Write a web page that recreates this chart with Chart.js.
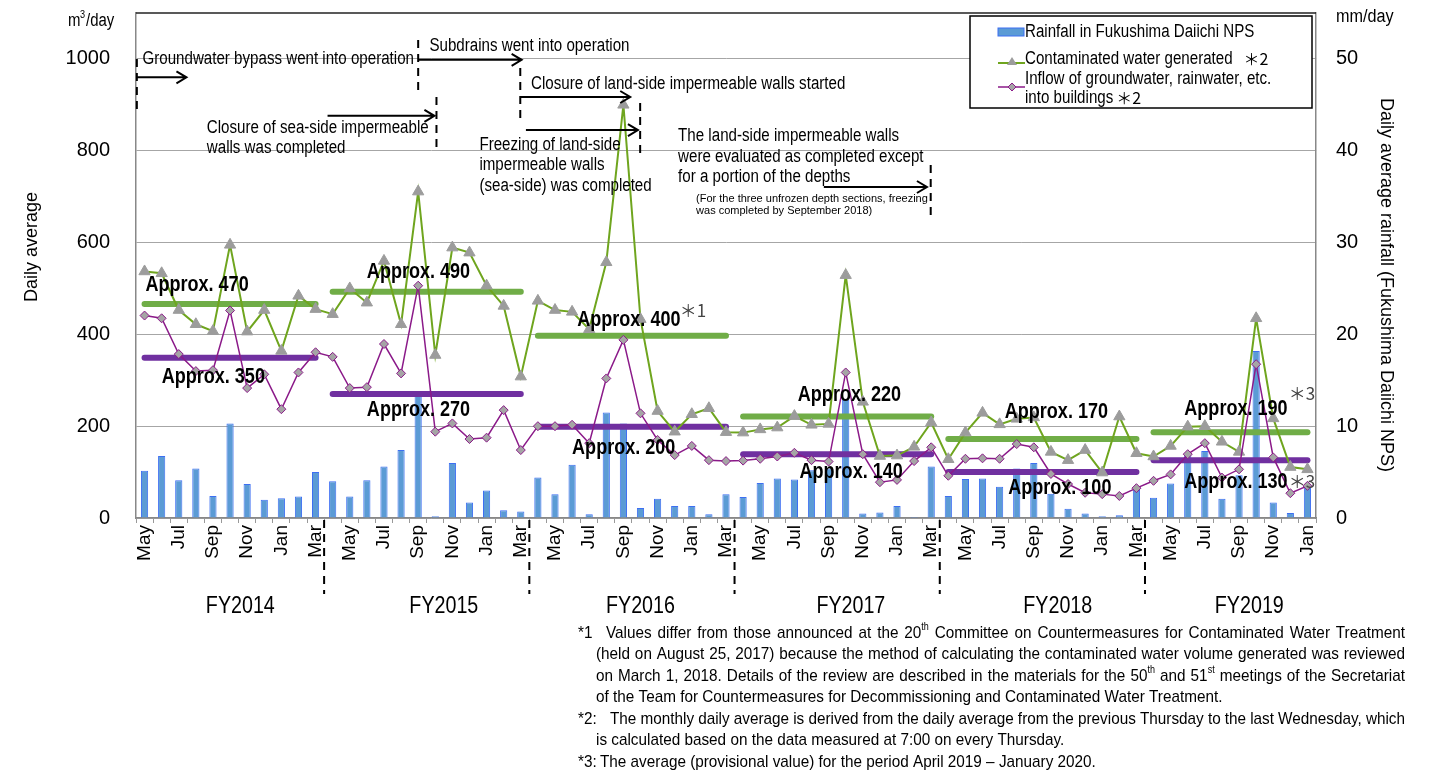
<!DOCTYPE html>
<html>
<head>
<meta charset="utf-8">
<script src="https://cdn.jsdelivr.net/npm/chart.js@4.4.1/dist/chart.umd.min.js"></script>
<style>
  html, body { margin: 0; padding: 0; background: #fff; }
  canvas { display: block; }
</style>
</head>
<body>
<canvas id="chart" width="1434" height="774"></canvas>
<script>
// months, May 2014 .. Jan 2020
const categories = [
  'May','Jun','Jul','Aug','Sep','Oct','Nov','Dec','Jan','Feb','Mar',
  'Apr','May','Jun','Jul','Aug','Sep','Oct','Nov','Dec','Jan','Feb','Mar',
  'Apr','May','Jun','Jul','Aug','Sep','Oct','Nov','Dec','Jan','Feb','Mar',
  'Apr','May','Jun','Jul','Aug','Sep','Oct','Nov','Dec','Jan','Feb','Mar',
  'Apr','May','Jun','Jul','Aug','Sep','Oct','Nov','Dec','Jan','Feb','Mar',
  'Apr','May','Jun','Jul','Aug','Sep','Oct','Nov','Dec','Jan'
];
// mm/day
const rainfall = [
  5.15, 6.75, 4.1, 5.4, 2.4, 10.3, 3.7, 2.0, 2.15, 2.35, 5.0,
  4.0, 2.35, 4.1, 5.6, 7.4, 13.7, 0.2, 6.0, 1.7, 3.0, 0.85, 0.7,
  4.4, 2.6, 5.8, 0.4, 11.5, 10.3, 1.1, 2.1, 1.3, 1.3, 0.4, 2.6,
  2.3, 3.8, 4.3, 4.2, 5.2, 5.4, 12.9, 0.5, 0.6, 1.3, 0.1, 5.6,
  2.4, 4.25, 4.3, 3.4, 5.4, 6.0, 2.65, 1.0, 0.5, 0.2, 0.3, 3.3,
  2.2, 3.75, 7.0, 7.3, 2.1, 4.65, 18.2, 1.7, 0.55, 3.45
];
// m3/day
const generated = [
  537, 533, 453, 422, 407, 595, 406, 453, 364, 484, 455,
  444, 500, 469, 560, 422, 711, 355, 589, 578, 506, 462, 308,
  473, 453, 449, 411, 557, 900, 433, 233, 188, 226, 239, 187,
  186, 193, 197, 222, 203, 205, 529, 253, 135, 136, 155, 208,
  128, 186, 229, 204, 216, 219, 144, 126, 148, 99, 221, 141,
  134, 157, 199, 200, 166, 144, 435, 217, 111, 106
];
const inflow = [
  441, 435, 357, 320, 322, 452, 283, 313, 237, 317, 361,
  351, 283, 285, 379, 315, 506, 188, 206, 172, 175, 235, 148,
  200, 200, 203, 163, 304, 388, 228, 170, 137, 157, 126, 124,
  125, 129, 134, 142, 126, 123, 317, 139, 78, 83, 124, 154,
  92, 129, 130, 129, 161, 154, 96, 74, 55, 52, 48, 65,
  81, 95, 139, 163, 88, 106, 335, 132, 54, 70
];
const fyNames = ['FY2014', 'FY2015', 'FY2016', 'FY2017', 'FY2018', 'FY2019'];
const fyStart = [0, 11, 23, 35, 47, 59];
const fyEnd = [10, 22, 34, 46, 58, 68];
const avgGenerated = [466, 493, 397, 221, 172, 187];
const avgInflow = [349, 270, 199, 139, 100, 126];
const avgGeneratedText = ['Approx. 470', 'Approx. 490', 'Approx. 400', 'Approx. 220', 'Approx. 170', 'Approx. 190'];
const avgInflowText = ['Approx. 350', 'Approx. 270', 'Approx. 200', 'Approx. 140', 'Approx. 100', 'Approx. 130'];
const leftTicks = [0, 200, 400, 600, 800, 1000];
const rightTicks = [0, 10, 20, 30, 40, 50];

const SANS = '"Liberation Sans", Arial, sans-serif';
const MARK = '"Noto Sans CJK JP", "DejaVu Serif", serif';
const NS = 0.83; // squeeze to look like a narrow face

// label anchors (category index, value)
const genLabelPos = [[0.05, 508], [13.0, 536], [25.3, 431], [38.2, 268], [50.3, 231], [60.8, 237]];
const inLabelPos = [[1.0, 307], [13.0, 235], [25.0, 153], [38.3, 100], [50.5, 65], [60.8, 78]];
const fyLabelIdx = [5.6, 17.5, 29.0, 41.3, 53.4, 64.6];

const events = [
  { text: ['Groundwater bypass went into operation'], tx: -0.12, tv: 1000, dashX: -0.45, dashV: [1000, 888], arrow: [-0.45, 2.45, 960] },
  { text: ['Subdrains went into operation'], tx: 16.66, tv: 1028, dashX: 16.0, dashV: [1041, 926], arrow: [16.0, 22.05, 998] },
  { text: ['Closure of sea-side impermeable', 'walls was completed'], tx: 3.64, tv: 850, dashX: 17.07, dashV: [917, 797], arrow: [10.7, 16.95, 876] },
  { text: ['Closure of land-side impermeable walls started'], tx: 22.6, tv: 946, dashX: 21.97, dashV: [980, 863], arrow: [21.97, 28.4, 917] },
  { text: ['Freezing of land-side', 'impermeable walls', '(sea-side) was completed'], tx: 19.58, tv: 813, dashX: 28.98, dashV: [904, 784], arrow: [22.3, 28.85, 845] },
  { text: ['The land-side impermeable walls', 'were evaluated as completed except', 'for a portion of the depths'], tx: 31.2, tv: 832, dashX: 45.97, dashV: [769, 654], arrow: [39.72, 45.75, 721] }
];
const smallNote = ['(For the three unfrozen depth sections, freezing', 'was completed by September 2018)'];

const footnotes = [
  { mark: '*1', text: 'Values differ from those announced at the 20^th Committee on Countermeasures for Contaminated Water Treatment', tx: 606, just: true },
  { mark: '', text: '(held on August 25, 2017) because the method of calculating the contaminated water volume generated was reviewed', tx: 596, just: true },
  { mark: '', text: 'on March 1, 2018. Details of the review are described in the materials for the 50^th and 51^st meetings of the Secretariat', tx: 596, just: true },
  { mark: '', text: 'of the Team for Countermeasures for Decommissioning and Contaminated Water Treatment.', tx: 596, just: false },
  { mark: '*2:', text: 'The monthly daily average is derived from the daily average from the previous Thursday to the last Wednesday, which', tx: 610, just: true },
  { mark: '', text: 'is calculated based on the data measured at 7:00 on every Thursday.', tx: 596, just: false },
  { mark: '*3:', text: 'The average (provisional value) for the period April 2019 – January 2020.', tx: 600, just: false }
];

// build datasets
const datasets = [
  {
    type: 'line', label: 'Inflow', data: inflow, yAxisID: 'y',
    borderColor: '#8B1A89', borderWidth: 1.5, tension: 0,
    pointStyle: 'rectRot', pointRadius: 4.5, pointBackgroundColor: '#A5A5A5',
    pointBorderColor: '#8B1A89', pointBorderWidth: 1, order: 0
  },
  {
    type: 'line', label: 'Generated', data: generated, yAxisID: 'y',
    borderColor: '#6FA51E', borderWidth: 2, tension: 0,
    pointStyle: 'triangle', pointRadius: 6.5, pointBackgroundColor: '#9C9C9C',
    pointBorderColor: '#9C9C9C', pointBorderWidth: 1, order: 1
  }
];
fyNames.forEach((fy, k) => {
  const g = categories.map((c, i) => (i >= fyStart[k] && i <= fyEnd[k]) ? avgGenerated[k] : null);
  const p = categories.map((c, i) => (i >= fyStart[k] && i <= fyEnd[k]) ? avgInflow[k] : null);
  datasets.push({ type: 'line', label: 'avgG' + fy, data: g, yAxisID: 'y', borderColor: '#70AD47', borderWidth: 6, pointRadius: 0, borderCapStyle: 'round', order: 3 });
  datasets.push({ type: 'line', label: 'avgP' + fy, data: p, yAxisID: 'y', borderColor: '#7030A0', borderWidth: 6, pointRadius: 0, borderCapStyle: 'round', order: 3 });
});
datasets.push({
  type: 'bar', label: 'Rainfall', data: rainfall, yAxisID: 'y2',
  backgroundColor: '#5B9BD5', borderColor: '#3D6FF2', borderWidth: 1,
  barPercentage: 0.42, categoryPercentage: 1, order: 10
});

// squeezed text
function txt(ctx, s, x, y, size, bold, align, sx) {
  ctx.save();
  ctx.font = (bold ? 'bold ' : '') + size + 'px ' + SANS;
  ctx.textAlign = align || 'left';
  ctx.translate(x, y);
  ctx.scale(sx || NS, 1);
  ctx.fillText(s, 0, 0);
  ctx.restore();
}

function arrow(ctx, x1, x2, y) {
  ctx.beginPath();
  ctx.moveTo(x1, y); ctx.lineTo(x2, y);
  ctx.moveTo(x2 - 10, y - 6); ctx.lineTo(x2, y); ctx.lineTo(x2 - 10, y + 6);
  ctx.stroke();
}

function dashV(ctx, x, y1, y2) {
  ctx.save();
  ctx.setLineDash([8, 6]);
  ctx.beginPath(); ctx.moveTo(x, y1); ctx.lineTo(x, y2); ctx.stroke();
  ctx.restore();
}

// words with "^" get a superscript tail
function wordWidth(ctx, w, font, sup) {
  const parts = w.split('^');
  ctx.font = font;
  let wd = ctx.measureText(parts[0]).width;
  if (parts[1]) { ctx.font = sup; wd += ctx.measureText(parts[1]).width; }
  return wd;
}
function drawWord(ctx, w, x, y, font, sup) {
  const parts = w.split('^');
  ctx.font = font;
  ctx.fillText(parts[0], x, y);
  if (parts[1]) {
    const b = ctx.measureText(parts[0]).width;
    ctx.font = sup;
    ctx.fillText(parts[1], x + b, y - 6);
  }
}
function drawLine(ctx, text, x, y, right, just, font, sup, squeeze) {
  const words = text.split(' ');
  const widths = words.map(w => wordWidth(ctx, w, font, sup));
  const sum = widths.reduce((a, b) => a + b, 0);
  ctx.font = font;
  const sp = ctx.measureText(' ').width;
  const target = (right - x) / squeeze;
  let gap = sp, sx = squeeze;
  if (just) gap = (target - sum) / (words.length - 1);
  if (gap < 2) gap = 2;
  const total = sum + gap * (words.length - 1);
  if (total > target) sx = squeeze * target / total;
  ctx.save();
  ctx.translate(x, y);
  ctx.scale(sx, 1);
  let cx = 0;
  words.forEach((w, i) => { drawWord(ctx, w, cx, 0, font, sup); cx += widths[i] + gap; });
  ctx.restore();
}

const overlay = {
  id: 'overlay',
  afterDraw(chart) {
    const ctx = chart.ctx, xs = chart.scales.x, ys = chart.scales.y, a = chart.chartArea;
    const X = i => xs.getPixelForValue(i);
    const Y = v => ys.getPixelForValue(v);
    ctx.save();

    // frame top
    ctx.strokeStyle = '#222'; ctx.lineWidth = 1.5;
    ctx.beginPath(); ctx.moveTo(a.left, a.top); ctx.lineTo(a.right, a.top); ctx.stroke();

    // event annotations
    ctx.strokeStyle = '#000'; ctx.lineWidth = 2; ctx.fillStyle = '#000';
    ctx.textBaseline = 'middle';
    events.forEach(e => {
      dashV(ctx, X(e.dashX), Y(e.dashV[0]), Y(e.dashV[1]));
      arrow(ctx, X(e.arrow[0]), X(e.arrow[1]), Y(e.arrow[2]));
      e.text.forEach((t, k) => txt(ctx, t, X(e.tx), Y(e.tv) + k * 20.5, 18, false, 'left', 0.84));
    });
    smallNote.forEach((t, k) => txt(ctx, t, X(32.25), Y(695) + k * 12.5, 11, false, 'left', 1));

    // average labels
    avgGeneratedText.forEach((t, k) => txt(ctx, t, X(genLabelPos[k][0]), Y(genLabelPos[k][1]), 22, true, 'left', 0.82));
    avgInflowText.forEach((t, k) => txt(ctx, t, X(inLabelPos[k][0]), Y(inLabelPos[k][1]), 22, true, 'left', 0.82));
    ctx.font = '17px ' + MARK; ctx.fillStyle = '#444'; ctx.textAlign = 'left';
    ctx.fillText('＊1', X(31.3), Y(451));
    ctx.fillText('＊3', X(66.9), Y(270));
    ctx.fillText('＊3', X(66.9), Y(80));

    // FY separators and labels
    ctx.fillStyle = '#000'; ctx.strokeStyle = '#000'; ctx.lineWidth = 2;
    fyStart.slice(1).forEach(s => dashV(ctx, X(s - 0.5), a.bottom + 2, a.bottom + 76));
    fyNames.forEach((n, k) => txt(ctx, n, X(fyLabelIdx[k]), a.bottom + 88, 24, false, 'center', 0.82));

    // axis titles and units
    ctx.font = '18px ' + SANS; ctx.textAlign = 'center';
    ctx.save(); ctx.translate(32, 247); ctx.rotate(-Math.PI / 2); ctx.fillText('Daily average', 0, 0); ctx.restore();
    ctx.save(); ctx.translate(1386, 285); ctx.rotate(Math.PI / 2); ctx.fillText('Daily average rainfall (Fukushima Daiichi NPS)', 0, 0); ctx.restore();
    txt(ctx, 'm', 68, 21, 18, false);
    txt(ctx, '3', 80, 15, 11, false);
    txt(ctx, '/day', 86, 21, 18, false);
    txt(ctx, 'mm/day', 1336, 17, 18, false, 'left', 0.9);

    // legend
    const lx = 970, ly = 16;
    ctx.fillStyle = '#fff'; ctx.fillRect(lx, ly, 342, 92);
    ctx.strokeStyle = '#000'; ctx.lineWidth = 1.5; ctx.strokeRect(lx, ly, 342, 92);
    ctx.fillStyle = '#5B9BD5'; ctx.fillRect(998, 28, 26, 8);
    ctx.strokeStyle = '#3D6FF2'; ctx.lineWidth = 1; ctx.strokeRect(998, 28, 26, 8);
    ctx.strokeStyle = '#6FA51E'; ctx.lineWidth = 2;
    ctx.beginPath(); ctx.moveTo(998, 63); ctx.lineTo(1025, 63); ctx.stroke();
    ctx.fillStyle = '#9C9C9C';
    ctx.beginPath(); ctx.moveTo(1012, 57); ctx.lineTo(1017, 65); ctx.lineTo(1007, 65); ctx.closePath(); ctx.fill();
    ctx.strokeStyle = '#8B1A89'; ctx.lineWidth = 1.5;
    ctx.beginPath(); ctx.moveTo(998, 87); ctx.lineTo(1025, 87); ctx.stroke();
    ctx.fillStyle = '#A5A5A5'; ctx.lineWidth = 1;
    ctx.beginPath(); ctx.moveTo(1012, 83); ctx.lineTo(1016, 87); ctx.lineTo(1012, 91); ctx.lineTo(1008, 87); ctx.closePath(); ctx.fill(); ctx.stroke();
    ctx.fillStyle = '#000';
    const LS = 0.84;
    txt(ctx, 'Rainfall in Fukushima Daiichi NPS', 1025, 32, 18, false, 'left', LS);
    txt(ctx, 'Contaminated water generated', 1025, 59, 18, false, 'left', LS);
    txt(ctx, 'Inflow of groundwater, rainwater, etc.', 1025, 79, 18, false, 'left', LS);
    txt(ctx, 'into buildings', 1025, 98, 18, false, 'left', LS);
    ctx.font = '18px ' + SANS;
    const cw = ctx.measureText('Contaminated water generated').width * LS;
    const ib = ctx.measureText('into buildings').width * LS;
    ctx.font = '16px ' + MARK; ctx.textAlign = 'left';
    ctx.fillText('＊2', 1036 + cw, 59);
    ctx.fillText('＊2', 1028 + ib, 98);

    // footnotes
    ctx.fillStyle = '#000'; ctx.textAlign = 'left';
    const fnFont = '17px ' + SANS, supFont = '10px ' + SANS, FS = 0.9;
    footnotes.forEach((f, k) => {
      const y = 633 + k * 21.5;
      if (f.mark) txt(ctx, f.mark, 578, y, 17, false, 'left', FS);
      drawLine(ctx, f.text, f.tx, y, 1405, f.just, fnFont, supFont, FS);
    });
    ctx.restore();
  }
};

new Chart(document.getElementById('chart'), {
  type: 'bar',
  data: { labels: categories, datasets },
  options: {
    responsive: false,
    animation: false,
    layout: { padding: { top: 13, left: 0, right: 0, bottom: 0 } },
    plugins: { legend: { display: false }, tooltip: { enabled: false } },
    scales: {
      x: {
        offset: true,
        grid: { drawOnChartArea: false, tickLength: 5, color: '#999' },
        border: { color: '#888', width: 1.5 },
        ticks: {
          autoSkip: false, maxRotation: 90, minRotation: 90, padding: 2,
          color: '#000', font: { size: 19, family: SANS },
          callback: (v, i) => i % 2 === 0 ? categories[i] : ''
        },
        afterFit: s => { s.height = 256; s.paddingLeft = 0; s.paddingRight = 0; }
      },
      y: {
        position: 'left', min: 0, max: 1100,
        afterBuildTicks: s => { s.ticks = leftTicks.map(v => ({ value: v })); },
        grid: { color: '#A6A6A6', lineWidth: 1, tickLength: 0 },
        border: { color: '#888', width: 1.5 },
        ticks: { color: '#000', padding: 26, font: { size: 20, family: SANS }, callback: v => String(v) },
        afterFit: s => { s.width = 136; s.paddingTop = 0; s.paddingBottom = 0; }
      },
      y2: {
        position: 'right', min: 0, max: 55,
        afterBuildTicks: s => { s.ticks = rightTicks.map(v => ({ value: v })); },
        grid: { drawOnChartArea: false, tickLength: 0 },
        border: { color: '#888', width: 1.5 },
        ticks: { color: '#000', padding: 20, font: { size: 20, family: SANS }, callback: v => String(v) },
        afterFit: s => { s.width = 118; s.paddingTop = 0; s.paddingBottom = 0; }
      }
    }
  },
  plugins: [overlay]
});
</script>
</body>
</html>
